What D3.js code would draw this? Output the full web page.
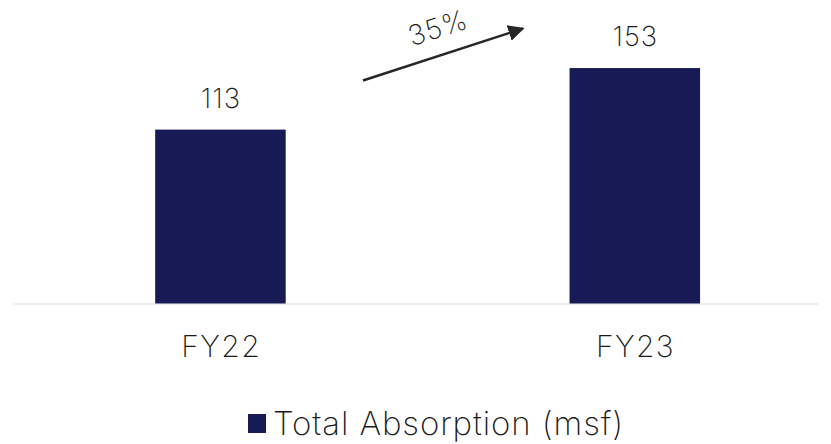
<!DOCTYPE html>
<html>
<head>
<meta charset="utf-8">
<script src="https://cdn.jsdelivr.net/npm/d3@7"></script>
<style>
  html, body { margin: 0; padding: 0; background: #fff; }
  svg { display: block; }
  text { font-family: "Inter", sans-serif; font-weight: 200; fill: #1a1a1a; }
</style>
</head>
<body>
<svg id="chart" width="831" height="444"></svg>
<script>
// Fiscal years and total absorption (million sq ft)
const categories = ["FY22", "FY23"];
const absorption = [113, 153];
const seriesName = "Total Absorption (msf)";
const growthLabel = "35%";

const svg = d3.select("#chart");
const barColor = "#181a56";

const x = d3.scaleBand()
  .domain(categories)
  .range([13.25, 842])
  .paddingInner(0.685)
  .paddingOuter(0.3425);

const y = d3.scaleLinear()
  .domain([0, 180])
  .range([303.5, 26.5]);

// baseline
svg.append("line")
  .attr("x1", 13).attr("x2", 818)
  .attr("y1", 304).attr("y2", 304)
  .attr("stroke", "#eeeeee").attr("stroke-width", 2);

// bars
svg.selectAll("rect.bar")
  .data(categories)
  .enter().append("rect")
  .attr("class", "bar")
  .attr("x", d => x(d))
  .attr("width", x.bandwidth())
  .attr("y", (d, i) => y(absorption[i]))
  .attr("height", (d, i) => y(0) - y(absorption[i]))
  .attr("fill", barColor);

// value labels
svg.selectAll("text.val")
  .data(categories)
  .enter().append("text")
  .attr("class", "val")
  .attr("x", d => x(d) + x.bandwidth() / 2 + 0.5)
  .attr("y", (d, i) => y(absorption[i]) - 22)
  .attr("text-anchor", "middle")
  .attr("font-size", 27.5)
  .style("letter-spacing", "1px")
  .text((d, i) => absorption[i]);

// category axis labels
const xAxis = d3.axisBottom(x).tickSize(0).tickPadding(0);
const gx = svg.append("g")
  .attr("transform", "translate(0,357)")
  .call(xAxis);
gx.select(".domain").remove();
gx.selectAll("text")
  .attr("dy", 0)
  .attr("dx", 0.7)
  .attr("font-size", 30)
  .style("letter-spacing", "1.4px")
  .style("font-family", "Inter, sans-serif")
  .style("font-weight", 200)
  .attr("fill", "#1a1a1a");

// growth arrow
const defs = svg.append("defs");
defs.append("marker")
  .attr("id", "head")
  .attr("viewBox", "0 0 10 10")
  .attr("refX", 9).attr("refY", 5)
  .attr("markerWidth", 6.5).attr("markerHeight", 6.5)
  .attr("markerUnits", "strokeWidth")
  .attr("orient", "auto")
  .append("path")
  .attr("d", "M0,0 L10,5 L0,10 Z")
  .attr("fill", "#262626");

svg.append("line")
  .attr("x1", 363).attr("y1", 80.5)
  .attr("x2", 523).attr("y2", 28.5)
  .attr("stroke", "#262626")
  .attr("stroke-width", 2.5)
  .attr("marker-end", "url(#head)");

svg.append("text")
  .attr("transform", "translate(441,37) rotate(-18)")
  .attr("text-anchor", "middle")
  .attr("font-size", 28)
  .style("letter-spacing", "1px")
  .text(growthLabel);

// legend
const legend = svg.append("g").attr("transform", "translate(248,414)");
legend.append("rect")
  .attr("width", 18).attr("height", 19)
  .attr("fill", barColor);
legend.append("text")
  .attr("x", 25).attr("y", 21)
  .attr("font-size", 33)
  .style("letter-spacing", "0.9px")
  .text(seriesName);
</script>
</body>
</html>
